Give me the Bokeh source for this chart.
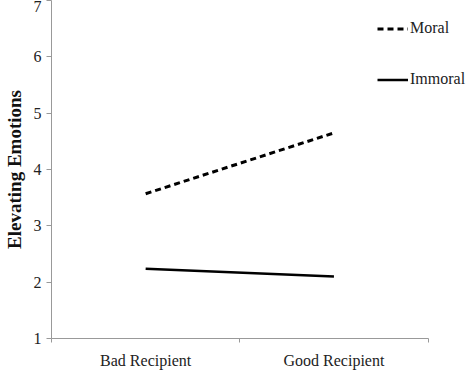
from bokeh.plotting import figure
from bokeh.models import Range1d, FixedTicker, Legend, LegendItem
from bokeh.embed import file_html
from bokeh.resources import INLINE

categories = ["Bad Recipient", "Good Recipient"]
moral = [3.57, 4.65]
immoral = [2.24, 2.10]
y_ticks = [1, 2, 3, 4, 5, 6, 7]

n = len(categories)
xpos = [i + 0.5 for i in range(n)]
FONT = "Liberation Serif"

p = figure(width=466, height=371, output_backend="svg", toolbar_location=None,
           x_range=Range1d(0, n * 1.102), y_range=Range1d(1, 7),
           min_border_left=45, min_border_right=0, min_border_top=0, min_border_bottom=31)
p.outline_line_color = None
p.grid.grid_line_color = None
p.background_fill_color = "white"

r1 = p.line(xpos, moral, line_color="black", line_width=3, line_dash="6 4")
r2 = p.line(xpos, immoral, line_color="black", line_width=2.5)

xa = p.xaxis[0]
xa.bounds = (0, n)
xa.ticker = FixedTicker(ticks=xpos, minor_ticks=list(range(n + 1)))
xa.major_label_overrides = {x: c for x, c in zip(xpos, categories)}
xa.major_tick_line_color = None
xa.minor_tick_line_color = "#999999"
xa.minor_tick_in = 0
xa.minor_tick_out = 4
xa.axis_line_color = "#999999"
xa.major_label_text_font = FONT
xa.major_label_text_font_size = "16px"
xa.major_label_text_color = "#222222"
xa.major_label_standoff = 7

ya = p.yaxis[0]
ya.ticker = FixedTicker(ticks=y_ticks)
ya.minor_tick_line_color = None
ya.major_tick_line_color = "#999999"
ya.major_tick_in = 0
ya.major_tick_out = 5
ya.axis_line_color = "#999999"
ya.major_label_text_font = FONT
ya.major_label_text_font_size = "16px"
ya.major_label_text_color = "#222222"
ya.major_label_standoff = 5
ya.axis_label = "Elevating Emotions"
ya.axis_label_text_font = FONT
ya.axis_label_text_font_style = "bold"
ya.axis_label_text_font_size = "19px"
ya.axis_label_text_color = "#111111"
ya.axis_label_standoff = 6

legend = Legend(items=[LegendItem(label="Moral", renderers=[r1]),
                       LegendItem(label="Immoral", renderers=[r2])],
                location=(326, 250), spacing=33, glyph_width=31, glyph_height=17,
                label_standoff=2, padding=0, margin=0, border_line_color=None,
                background_fill_alpha=0, label_text_font=FONT,
                label_text_font_size="16px", label_text_color="#222222")
p.add_layout(legend, "center")

open("out.html", "w").write(file_html(p, INLINE))
